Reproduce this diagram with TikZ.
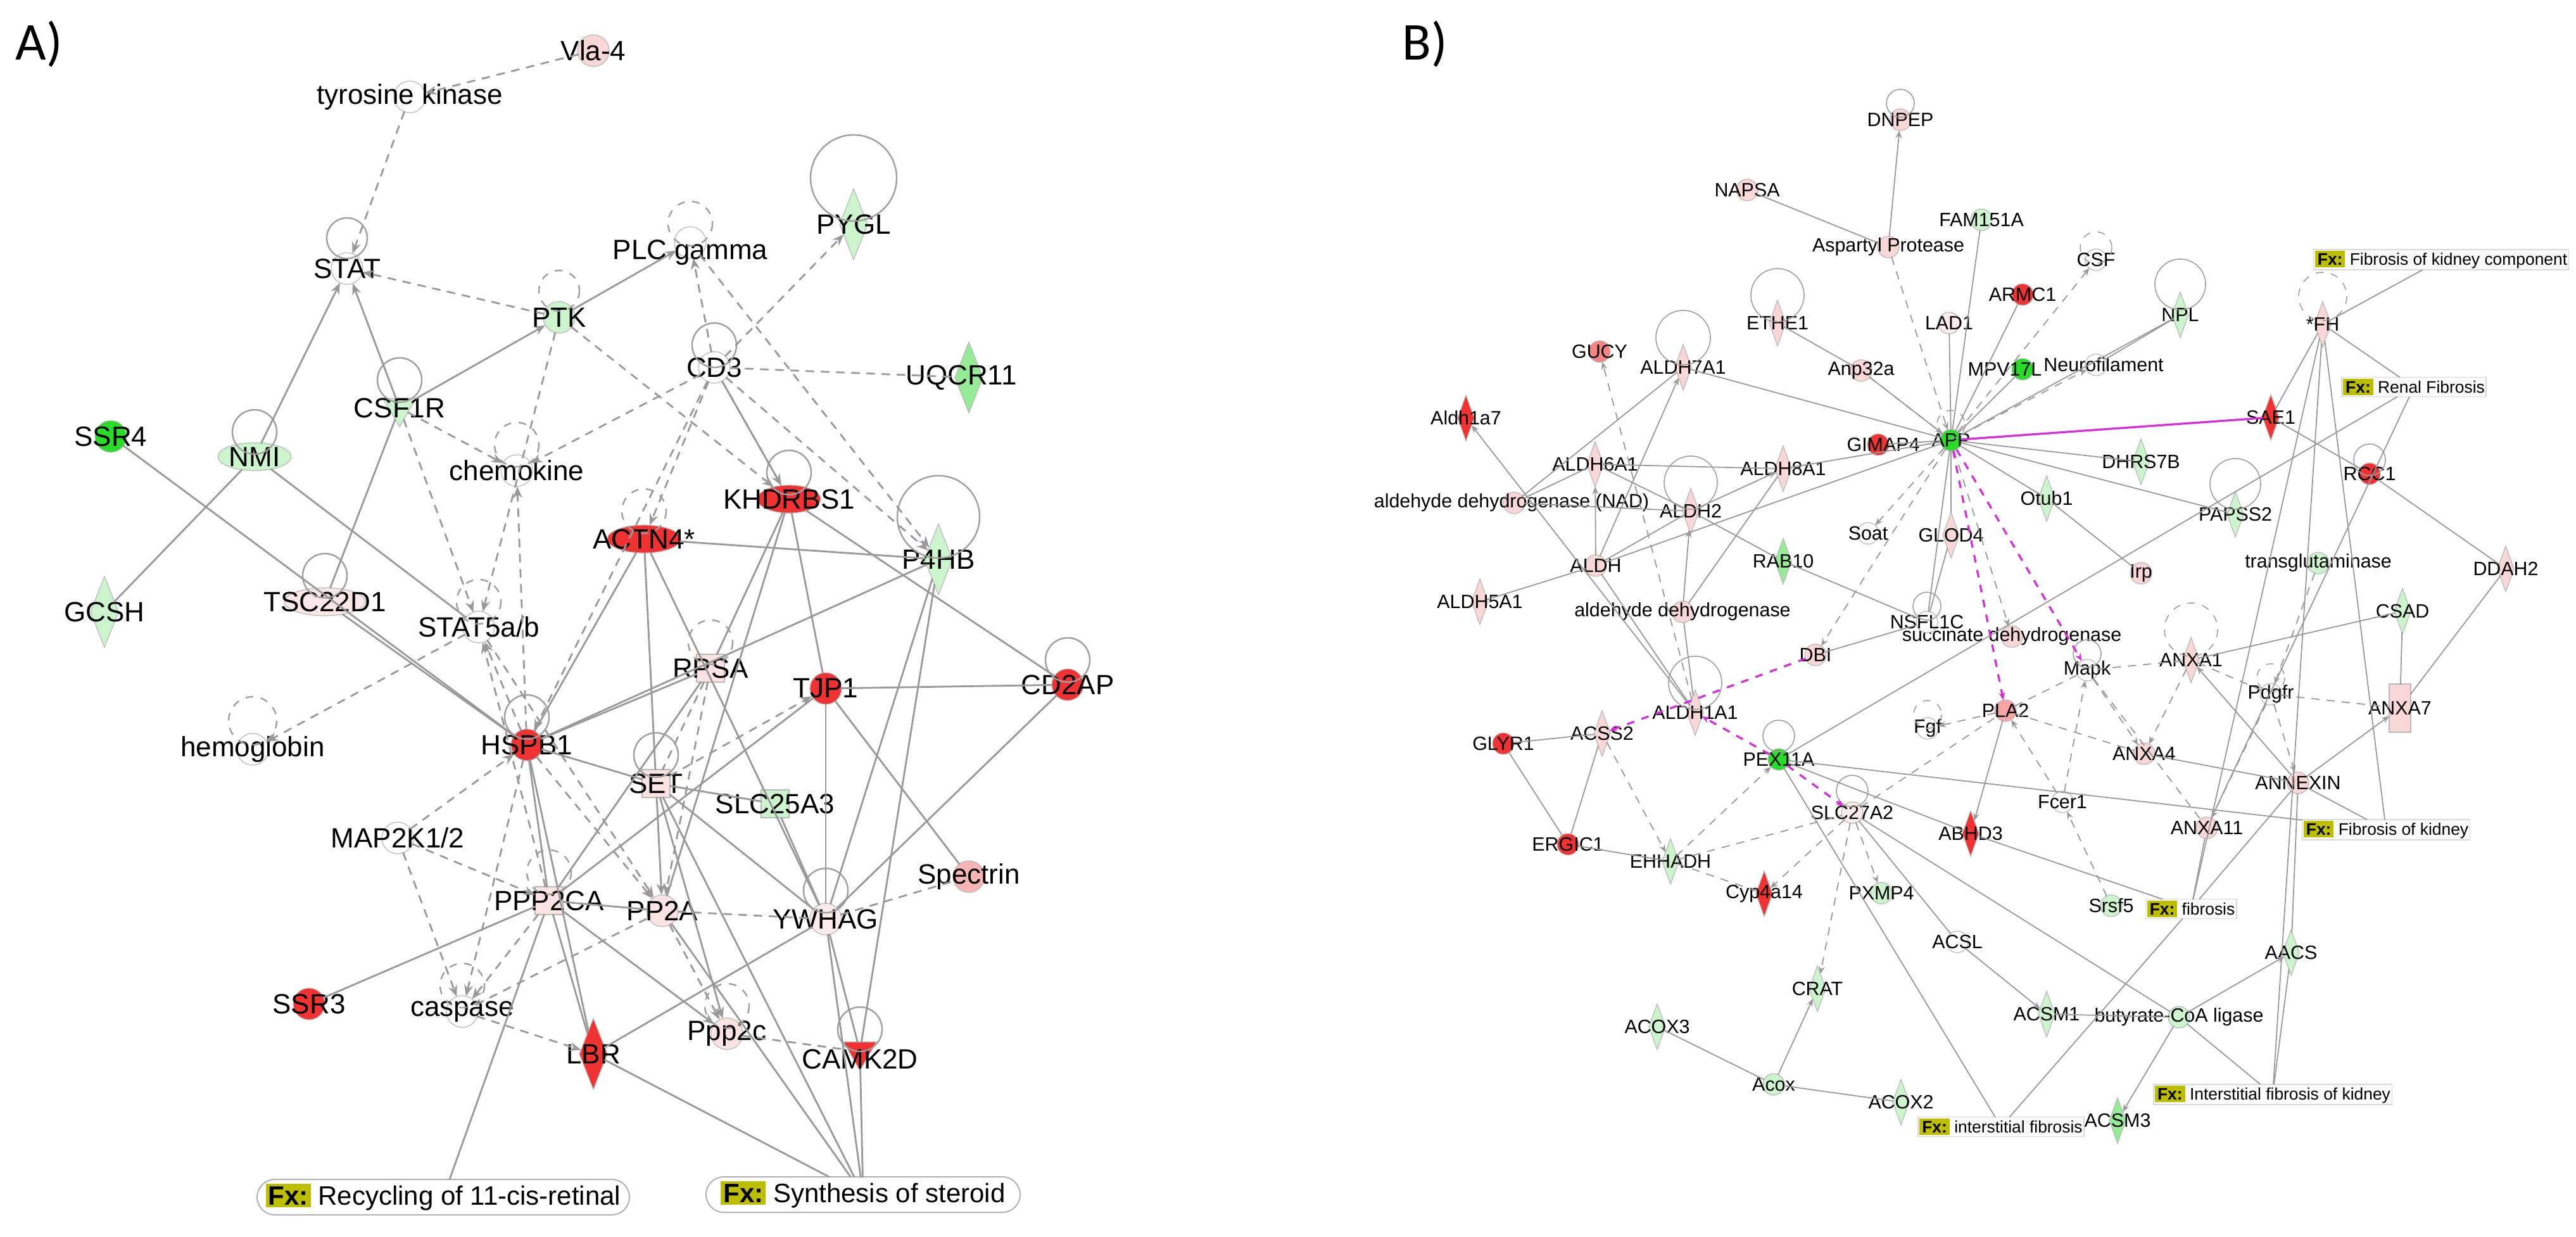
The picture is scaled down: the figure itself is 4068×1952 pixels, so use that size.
\documentclass[tikz,border=0pt]{standalone}
\usepackage{fontspec}
\setmainfont{Liberation Sans}
\newfontfamily\calib{Carlito}
\usetikzlibrary{shapes.geometric,shapes.misc,arrows.meta}
\definecolor{nred}{RGB}{240,50,50}
\definecolor{npink}{RGB}{250,215,215}
\definecolor{nlg}{RGB}{205,245,205}
\definecolor{ngr}{RGB}{40,220,40}
\definecolor{nmg}{RGB}{150,235,150}
\definecolor{fxol}{RGB}{190,190,0}
\definecolor{mag}{RGB}{220,40,220}
\newcommand\nd[5][]{\node[#4,label={[lab,#1]center:#5}] (#2) at (#3) {};}
\newcommand\lp[4][]{\draw[lpst,#1] ([shift={(0,#3)}]#2.center) circle[radius=#4];}
\newcommand\fxt[1]{{\setlength\fboxsep{1pt}\colorbox{fxol}{\textbf{#1}}}}
\begin{document}
\begin{tikzpicture}[x=0.25pt,y=-0.25pt,
  every node/.style={inner sep=0pt,outer sep=0pt},
  bs/.style={draw=gray!55,line width=0.3pt},
  e/.style={draw=gray!80,line cap=round},
  d/.style={e,dashed},
  a/.style={-{Stealth[length=3pt,width=2.4pt]}},
  lpst/.style={draw=gray!75},
]
\useasboundingbox (0,0) rectangle (4068,1952);
\fill[white] (0,0) rectangle (4068,1952);
\node[font=\calib\fontsize{21}{22}\selectfont] (lA) at (62,70) {A)};
\node[font=\calib\fontsize{21}{22}\selectfont] (lB) at (2250,70) {B)};
%%%%%%%%%%%%%%%% PANEL A
\begin{scope}[lab/.style={font=\fontsize{11}{12}\selectfont},
  c/.style={bs,circle,minimum size=12.5pt},
  dm/.style={bs,diamond,minimum width=11pt,minimum height=28pt},
  el/.style={bs,ellipse,minimum width=#1,minimum height=11pt},
  sq/.style={bs,rectangle,minimum size=11pt},
  tri/.style={bs,regular polygon,regular polygon sides=3,shape border rotate=180,minimum size=15pt},
  e/.append style={line width=0.7pt}, lpst/.append style={line width=0.6pt},
  a/.style={-{Stealth[length=4.5pt,width=3.5pt]}}]
\nd{vla}{937,80}{c,fill=npink}{Vla-4}
\nd{tk}{647,153}{c,fill=white}{tyrosine kinase}
\nd{stat}{548,424}{c,fill=white}{STAT}
\nd{ptk}{883,501}{c,fill=nlg}{PTK}
\nd{csf}{631,644}{tri,fill=nlg}{CSF1R}
\nd{ssr4}{175,689}{c,fill=ngr}{SSR4}
\nd{nmi}{402,721}{el=29pt,fill=nlg}{NMI}
\nd{chem}{816,743}{c,fill=white}{chemokine}
\nd{gcsh}{165,966}{dm,fill=nlg}{GCSH}
\nd{tsc}{513,950}{el=32pt,fill=npink!60}{TSC22D1}
\nd{stat5}{756,990}{c,fill=white}{STAT5a/b}
\nd{hemo}{399,1183}{c,fill=white}{hemoglobin}
\nd{hspb1}{832,1176}{c,fill=nred}{HSPB1}
\nd{map}{628,1323}{c,fill=white}{MAP2K1/2}
\nd{ppp2ca}{867,1422}{sq,fill=npink!70}{PPP2CA}
\nd{ssr3}{488,1585}{c,fill=nred}{SSR3}
\nd{casp}{730,1597}{c,fill=white}{caspase}
\nd{lbr}{937,1664}{dm,fill=nred}{LBR}
\nd{actn}{1017,851}{el=29pt,fill=nred}{ACTN4*}
\nd{khd}{1246,788}{el=25pt,fill=nred}{KHDRBS1}
\nd{p4hb}{1482,883}{dm,fill=nlg}{P4HB}
\nd{pygl}{1348,354}{dm,fill=nlg}{PYGL}
\nd[yshift=-4pt]{plc}{1090,383}{c,fill=white}{PLC gamma}
\nd{cd3}{1128,580}{c,fill=white}{CD3}
\nd[xshift=-3pt]{uq}{1530,596}{dm,fill=nmg}{UQCR11}
\nd{rpsa}{1122,1055}{sq,fill=npink!70}{RPSA}
\nd{tjp1}{1304,1087}{c,fill=nred}{TJP1}
\nd{cd2ap}{1686,1081}{c,fill=nred}{CD2AP}
\nd{set}{1036,1237}{sq,fill=npink!70}{SET}
\nd{slc}{1224,1269}{sq,fill=nlg}{SLC25A3}
\nd{spec}{1530,1384}{c,fill=npink!50!nred!60}{Spectrin}
\nd{ywhag}{1304,1451}{c,fill=npink!50}{YWHAG}
\nd{pp2a}{1046,1438}{c,fill=npink!70}{PP2A}
\nd{ppp2c}{1148,1632}{c,fill=npink!70}{Ppp2c}
\nd[yshift=-3pt]{camk}{1358,1660}{tri,fill=nred}{CAMK2D}
\node[draw=gray!60,line width=0.5pt,rounded rectangle,minimum width=147pt,minimum height=14pt,font=\fontsize{10.5}{12}\selectfont] (fx1) at (700,1890) {\fxt{Fx:} Recycling of 11-cis-retinal};
\node[draw=gray!60,line width=0.5pt,rounded rectangle,minimum width=124pt,minimum height=14pt,font=\fontsize{10.5}{12}\selectfont] (fx2) at (1363,1886) {\fxt{Fx:} Synthesis of steroid};
\lp{stat}{-48}{32}\lp[dashed]{ptk}{-42}{32}\lp{csf}{-44}{35}\lp{nmi}{-39}{35}
\lp[dashed]{chem}{-41}{35}\lp{tsc}{-41}{35}\lp[dashed]{stat5}{-40}{35}
\lp[dashed]{hemo}{-45}{38}\lp{hspb1}{-44}{35}\lp[dashed]{ppp2ca}{-45}{35}
\lp[dashed]{casp}{-41}{35}\lp[dashed]{actn}{-44}{35}\lp{khd}{-42}{35}
\lp{p4hb}{-67}{65}\lp{pygl}{-73}{68}\lp[dashed]{plc}{-30}{35}\lp{cd3}{-35}{35}
\lp[dashed]{rpsa}{-41}{35}\lp{cd2ap}{-39}{35}\lp{set}{-45}{35}\lp{ywhag}{-45}{35}
\lp[dashed]{ppp2c}{-44}{35}\lp{camk}{-35}{35}
\foreach \p/\q in {vla/tk,tk/stat,ptk/stat,cd3/plc,ptk/khd,cd3/pygl,cd3/chem,csf/chem,cd3/khd,cd3/p4hb,plc/p4hb,cd3/actn,cd3/hspb1,csf/stat5,stat5/hemo,hspb1/chem,hspb1/stat5,ppp2ca/stat5,map/hspb1,map/ppp2ca,map/casp,ppp2ca/casp,hspb1/casp,casp/lbr,stat5/pp2a,hspb1/pp2a,set/tjp1,rpsa/pp2a,pp2a/ppp2c,ptk/stat5}
  \draw[d,a] (\p) -- (\q);
\foreach \p/\q in {cd3/uq,ywhag/spec,pp2a/ywhag,ppp2c/camk,casp/pp2a,rpsa/set}
  \draw[d] (\p) -- (\q);
\foreach \p/\q in {ptk/plc,csf/ptk,csf/stat,nmi/stat,set/pp2a,cd3/khd,ppp2ca/ppp2c,set/ppp2c}
  \draw[e,a] (\p) -- (\q);
\foreach \p/\q in {nmi/gcsh,ssr4/hspb1,nmi/stat5,csf/tsc,tsc/hspb1,actn/hspb1,actn/set,actn/p4hb,actn/ywhag,khd/pp2a,khd/tjp1,khd/cd2ap,khd/rpsa,p4hb/hspb1,p4hb/ywhag,p4hb/camk,hspb1/rpsa,hspb1/set,hspb1/ppp2ca,hspb1/lbr,set/slc,set/ywhag,set/fx2,rpsa/ppp2ca,tjp1/cd2ap,tjp1/ppp2ca,tjp1/ywhag,tjp1/spec,cd2ap/ywhag,slc/ywhag,ywhag/lbr,ywhag/camk,ppp2ca/pp2a,ppp2ca/lbr,ssr3/ppp2ca,ppp2ca/fx1,lbr/fx2,ywhag/fx2,camk/fx2,pp2a/fx2}
  \draw[e] (\p) -- (\q);
\end{scope}
%%%%%%%%%%%%%%%% PANEL B
\begin{scope}[lab/.style={font=\fontsize{7.6}{8}\selectfont},
  c/.style={bs,circle,minimum size=8.5pt},
  dm/.style={bs,diamond,minimum width=6.5pt,minimum height=18pt},
  e/.append style={line width=0.45pt}, lpst/.append style={line width=0.4pt},
  fx/.style={draw=gray!30,fill=gray!4,inner sep=0.6pt,font=\fontsize{6.6}{7.5}\selectfont}]
\nd{dnpep}{3001,189}{c,fill=npink}{DNPEP}
\nd{napsa}{2759,300}{c,fill=npink}{NAPSA}
\nd{asp}{2982,390}{c,fill=npink}{Aspartyl Protease}
\nd{fam}{3129,347}{c,fill=nlg}{FAM151A}
\nd{ethe1}{2807,510}{dm,fill=npink}{ETHE1}
\nd{lad1}{3078,510}{c,fill=npink!50}{LAD1}
\nd{bcsf}{3310,410}{c,fill=white}{CSF}
\nd{armc1}{3194,465}{c,fill=nred}{ARMC1}
\nd{npl}{3443,497}{dm,fill=nlg}{NPL}
\nd[xshift=-7pt]{mpv}{3194,583}{c,fill=ngr}{MPV17L}
\nd[xshift=3pt]{neuro}{3310,576}{c,fill=white}{Neurofilament}
\nd{fh}{3668,512}{dm,fill=npink}{*FH}
\nd{sae1}{3586,659}{dm,fill=nred}{SAE1}
\nd{dhrs}{3381,729}{dm,fill=nlg}{DHRS7B}
\nd{rcc1}{3742,748}{c,fill=nred}{RCC1}
\nd{otub}{3232,787}{dm,fill=nlg}{Otub1}
\nd{papss}{3530,812}{dm,fill=nlg}{PAPSS2}
\nd{irp}{3381,905}{c,fill=npink}{Irp}
\nd{tg}{3661,889}{c,fill=nlg}{transglutaminase}
\nd{ddah2}{3957,898}{dm,fill=npink}{DDAH2}
\nd{csad}{3794,965}{dm,fill=nlg}{CSAD}
\nd{sdh}{3177,1005}{c,fill=npink}{succinate dehydrogenase}
\nd{mapk}{3296,1058}{c,fill=white}{Mapk}
\nd{anxa1}{3460,1042}{dm,fill=npink}{ANXA1}
\nd{pdgfr}{3586,1096}{c,fill=white}{Pdgfr}
\node[bs,rectangle,fill=npink,minimum width=8.5pt,minimum height=19pt,label={[lab]center:ANXA7}] (anxa7) at (3790,1118) {};
\nd{pla2}{3167,1122}{c,fill=npink!70!nred}{PLA2}
\nd{fgf}{3044,1150}{c,fill=white}{Fgf}
\nd{anxa4}{3386,1190}{c,fill=npink}{ANXA4}
\nd{gucy}{2526,555}{c,fill=npink!50!nred}{GUCY}
\nd{aldh7}{2658,580}{dm,fill=npink}{ALDH7A1}
\nd{anp}{2939,585}{c,fill=npink}{Anp32a}
\nd{aldh1a7}{2315,660}{dm,fill=nred}{Aldh1a7}
\nd[xshift=2pt]{gimap4}{2966,702}{c,fill=nred}{GIMAP4}
\nd{app}{3081,695}{c,fill=ngr}{APP}
\nd{aldh6}{2519,733}{dm,fill=npink}{ALDH6A1}
\nd{aldh8}{2816,740}{dm,fill=npink}{ALDH8A1}
\nd[xshift=-1pt]{nad}{2391,794}{c,fill=npink}{aldehyde dehydrogenase (NAD)}
\nd{aldh2}{2670,807}{dm,fill=npink}{ALDH2}
\nd{soat}{2950,842}{c,fill=white}{Soat}
\nd{glod4}{3081,845}{dm,fill=npink}{GLOD4}
\nd{rab10}{2816,886}{dm,fill=nmg}{RAB10}
\nd{aldh}{2520,893}{c,fill=npink}{ALDH}
\nd{aldh5}{2337,950}{dm,fill=npink}{ALDH5A1}
\nd{ald}{2657,966}{c,fill=npink}{aldehyde dehydrogenase}
\nd{nsfl}{3043,982}{c,fill=white}{NSFL1C}
\nd{dbi}{2867,1034}{c,fill=npink}{DBI}
\nd{aldh1a1}{2677,1125}{dm,fill=npink}{ALDH1A1}
\nd{glyr1}{2374,1174}{c,fill=nred}{GLYR1}
\nd{acss2}{2530,1158}{dm,fill=npink}{ACSS2}
\nd{pex}{2809,1199}{c,fill=ngr}{PEX11A}
\nd{slc27}{2925,1283}{c,fill=npink!50}{SLC27A2}
\nd{abhd3}{3112,1316}{dm,fill=nred}{ABHD3}
\nd{fcer1}{3257,1266}{c,fill=white}{Fcer1}
\nd{ergic1}{2476,1333}{c,fill=nred}{ERGIC1}
\nd{ehhadh}{2638,1360}{dm,fill=nlg}{EHHADH}
\nd{cyp}{2786,1411}{dm,fill=nred}{Cyp4a14}
\nd{pxmp4}{2971,1410}{c,fill=nlg}{PXMP4}
\nd{srsf5}{3334,1430}{c,fill=nlg}{Srsf5}
\nd{acsl}{3091,1487}{c,fill=white}{ACSL}
\nd{crat}{2870,1561}{dm,fill=nlg}{CRAT}
\nd{acsm1}{3232,1601}{dm,fill=nlg}{ACSM1}
\nd{acox3}{2617,1621}{dm,fill=nlg}{ACOX3}
\nd{acox}{2801,1712}{c,fill=nlg}{Acox}
\nd{acox2}{3002,1740}{dm,fill=nlg}{ACOX2}
\nd{acsm3}{3344,1769}{dm,fill=nmg}{ACSM3}
\nd{annexin}{3629,1236}{c,fill=npink}{ANNEXIN}
\nd{anxa11}{3485,1307}{c,fill=npink}{ANXA11}
\nd{aacs}{3618,1504}{dm,fill=nlg}{AACS}
\nd{bcoa}{3441,1606}{c,fill=nlg}{butyrate-CoA ligase}
\node[fx] (fxk1) at (3855,410) {\fxt{Fx:} Fibrosis of kidney component};
\node[fx] (fxr) at (3812,611) {\fxt{Fx:} Renal Fibrosis};
\node[fx] (fxk) at (3768,1310) {\fxt{Fx:} Fibrosis of kidney};
\node[fx] (fxf) at (3460,1435) {\fxt{Fx:} fibrosis};
\node[fx] (fxik) at (3589,1728) {\fxt{Fx:} Interstitial fibrosis of kidney};
\node[fx] (fxi) at (3160,1779) {\fxt{Fx:} interstitial fibrosis};
\lp{dnpep}{-26}{22}\lp{ethe1}{-44}{42}\lp[dashed]{bcsf}{-19}{25}\lp{npl}{-48}{40}
\lp[dashed]{fh}{-44}{38}\lp{rcc1}{-22}{25}\lp{papss}{-48}{40}\lp{mapk}{-26}{22}
\lp[dashed]{anxa1}{-48}{42}\lp[dashed]{pdgfr}{-26}{22}\lp[dashed]{fgf}{-22}{22}
\lp{aldh7}{-47}{43}\lp[dashed]{app}{-25}{22}\lp{aldh2}{-45}{42}\lp{nsfl}{-25}{22}
\lp{aldh1a1}{-47}{42}\lp{pex}{-37}{25}\lp{slc27}{-34}{25}
\foreach \p/\q in {asp/dnpep,aldh/aldh7,aldh/aldh6,ald/aldh2,aldh2/aldh8,aldh1a1/aldh1a7,pla2/abhd3,acsl/acsm1,acox/crat,bcoa/aacs,bcoa/acsm3,annexin/anxa7,annexin/anxa1}
  \draw[e,a] (\p) -- (\q);
\foreach \p/\q in {asp/napsa,fam/app,lad1/app,armc1/app,npl/app,mpv/app,app/dhrs,app/otub,app/papss,otub/irp,ethe1/anp,anp/app,app/aldh7,app/gimap4,app/aldh8,app/aldh,app/nsfl,glod4/nsfl,app/glod4,aldh2/rab10,rab10/nsfl,aldh7/nad,aldh6/aldh8,nad/aldh2,aldh/aldh2,aldh/aldh5,ald/aldh8,ald/aldh1a1,aldh/aldh1a1,aldh6/aldh2,nad/aldh6,nsfl/dbi,pex/fxr,pex/fxk,pex/abhd3,abhd3/fxf,glyr1/acss2,glyr1/ergic1,acss2/ergic1,ergic1/ehhadh,slc27/acsl,pex/fxi,slc27/bcoa,acox/acox3,acox/acox2,acsm1/bcoa,bcoa/fxik,aacs/fxik,annexin/aacs,annexin/fxk,annexin/fxf,anxa11/fxf,anxa4/annexin,anxa1/csad,csad/anxa7,ddah2/anxa7,rcc1/ddah2,sae1/rcc1,fh/sae1,fh/fxk1,fh/fxr,fh/fxk,fh/fxf,fxr/anxa11,fxf/fxi,fh/fxik,neuro/npl}
  \draw[e] (\p) -- (\q);
\foreach \p/\q in {asp/app,app/bcsf,anp/app,app/soat,app/dbi,app/sdh,aldh1a1/gucy,acss2/ehhadh,ehhadh/pex,slc27/cyp,slc27/pxmp4,slc27/crat,pla2/fgf,fcer1/pla2,srsf5/fcer1,fcer1/mapk,anxa1/anxa4,pdgfr/annexin,pdgfr/anxa11,tg/pdgfr,mapk/anxa4,app/neuro}
  \draw[d,a] (\p) -- (\q);
\foreach \p/\q in {ehhadh/slc27,ehhadh/cyp,slc27/pla2,pla2/mapk,pla2/anxa4,mapk/anxa1,mapk/anxa11,anxa1/pdgfr,pdgfr/anxa7}
  \draw[d] (\p) -- (\q);
\draw[draw=mag,line width=0.8pt] (app) -- (sae1);
\foreach \p/\q in {app/pla2,app/mapk,pex/aldh1a1,dbi/acss2,pex/slc27}
  \draw[draw=mag,line width=0.8pt,dashed,a] (\p) -- (\q);
\end{scope}
\end{tikzpicture}
\end{document}
